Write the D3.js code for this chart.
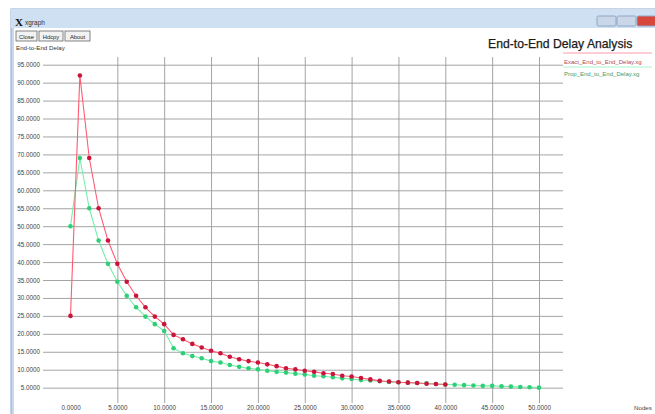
<!DOCTYPE html>
<html><head><meta charset="utf-8">
<script src="https://cdn.jsdelivr.net/npm/d3@7"></script>
<style>
html,body{margin:0;padding:0;background:#fff;overflow:hidden;}
svg{display:block;font-family:"Liberation Sans",Arial,sans-serif;}
</style></head>
<body>
<svg id="chart" width="655" height="414"></svg>
<script>
// ---- data ----
const title = "End-to-End Delay Analysis";
const yAxisTitle = "End-to-End Delay";
const xAxisTitle = "Nodes";
const seriesNames = ["Exact_End_to_End_Delay.xg", "Prop_End_to_End_Delay.xg"];
const xTicks = [0, 5, 10, 15, 20, 25, 30, 35, 40, 45, 50];
const yTicks = [5, 10, 15, 20, 25, 30, 35, 40, 45, 50, 55, 60, 65, 70, 75, 80, 85, 90, 95];
const exactX = [0,1,2,3,4,5,6,7,8,9,10,11,12,13,14,15,16,17,18,19,20,21,22,23,24,25,26,27,28,29,30,31,32,33,34,35,36,37,38,39,40];
const exactY = [25,92,69,55,46,39.5,34.5,30.6,27.4,24.8,22.7,19.7,18.5,17.2,16.2,15.3,14.6,13.6,12.9,12.4,12.0,11.5,11.0,10.4,10.1,9.7,9.4,9.0,8.8,8.3,8.1,7.7,7.3,6.9,6.7,6.5,6.4,6.3,6.1,6.0,5.9];
const propX = [0,1,2,3,4,5,6,7,8,9,10,11,12,13,14,15,16,17,18,19,20,21,22,23,24,25,26,27,28,29,30,31,32,33,34,35,36,37,38,39,40,41,42,43,44,45,46,47,48,49,50];
const propY = [50,69,55,46,39.5,34.5,30.6,27.4,24.8,22.7,20.8,16.0,14.6,13.8,13.2,12.4,12.0,11.3,10.8,10.4,10.1,9.7,9.4,9.2,8.9,8.7,8.3,8.2,7.9,7.6,7.4,7.1,7.0,6.8,6.6,6.5,6.4,6.3,6.2,6.0,5.9,5.8,5.7,5.6,5.5,5.5,5.4,5.3,5.2,5.1,5.0];

const svg = d3.select("#chart");

// ---- window chrome ----
svg.append("rect").attr("x",11).attr("y",9).attr("width",660).attr("height",420)
  .attr("fill","#c6d9ee").attr("stroke","#8eaacb");
svg.append("rect").attr("x",11).attr("y",9).attr("width",660).attr("height",19)
  .attr("fill","#cfe0f2");
svg.append("text").attr("x",15).attr("y",26).attr("font-family","Liberation Serif,serif")
  .attr("font-weight","bold").attr("font-size",11).attr("fill","#111").text("X");
svg.append("text").attr("x",25).attr("y",25).attr("font-size",6.5).attr("fill","#333").text("xgraph");
const ctl = [[597,"#c9d7e8"],[617,"#c9d7e8"],[637,"#d8473c"]];
ctl.forEach(c=>{
  svg.append("rect").attr("x",c[0]).attr("y",16).attr("width",19).attr("height",10)
    .attr("rx",1.5).attr("fill",c[1]).attr("stroke","#8ea6c4");
});
svg.append("rect").attr("x",14).attr("y",28).attr("width",660).attr("height",400).attr("fill","#fff");

// buttons
const btns = [["Close",16,21],["Hdcpy",39,24],["About",65,25]];
btns.forEach(b=>{
  svg.append("rect").attr("x",b[1]).attr("y",31).attr("width",b[2]).attr("height",10)
    .attr("fill","#f2f2f2").attr("stroke","#666").attr("stroke-width",0.8);
  svg.append("text").attr("x",b[1]+b[2]/2).attr("y",38.5).attr("text-anchor","middle")
    .attr("font-size",5.8).attr("fill","#222").text(b[0]);
});
svg.append("text").attr("x",16).attr("y",50).attr("font-size",6.2).attr("fill","#333").text(yAxisTitle);
svg.append("text").attr("x",488).attr("y",47.5).attr("font-size",12.2).attr("fill","#1a1a1a")
  .attr("stroke","#1a1a1a").attr("stroke-width",0.25).text(title);

// ---- scales ----
const x = d3.scaleLinear().domain([0,50]).range([70.5,539]);
const y = d3.scaleLinear().domain([0,95]).range([405.6,64.7]);
const plotL = 43, plotR = 563, plotT = 57, plotB = 403;

// y axis with horizontal grid
const gy = svg.append("g").attr("transform",`translate(${plotL},0)`)
  .call(d3.axisLeft(y).tickValues(yTicks).tickSize(-(plotR-plotL)).tickPadding(3)
    .tickFormat(d=>d.toFixed(4)));
gy.select(".domain").remove();
gy.selectAll(".tick line").attr("stroke","#9a9a9a").attr("stroke-width",0.9);
gy.selectAll(".tick text").attr("font-size",6.3).attr("fill","#444").attr("font-family","Liberation Sans,Arial,sans-serif");

// x axis with vertical grid
const gx = svg.append("g").attr("transform",`translate(0,${plotB})`)
  .call(d3.axisBottom(x).tickValues(xTicks).tickSize(-(plotB-plotT)).tickPadding(3)
    .tickFormat(d=>d.toFixed(4)));
gx.select(".domain").remove();
gx.selectAll(".tick line").attr("stroke","#9a9a9a").attr("stroke-width",0.9)
  .attr("display",d=>d===0?"none":null);
gx.selectAll(".tick text").attr("font-size",6.3).attr("fill","#444").attr("font-family","Liberation Sans,Arial,sans-serif");

svg.append("text").attr("x",634).attr("y",410).attr("font-size",6.2).attr("fill","#444").text(xAxisTitle);

// ---- series ----
const series = [
  {name:seriesNames[1], xs:propX, ys:propY, line:"#6ff0a8", dot:"#2fcf78"},
  {name:seriesNames[0], xs:exactX, ys:exactY, line:"#ff5a72", dot:"#c8153a"}
];
const lineGen = d3.line().x(d=>x(d[0])).y(d=>y(d[1]));
series.forEach(s=>{
  const pts = s.xs.map((v,i)=>[v,s.ys[i]]);
  svg.append("path").datum(pts).attr("d",lineGen).attr("fill","none")
    .attr("stroke",s.line).attr("stroke-width",1.1);
  svg.append("g").selectAll("circle").data(pts).join("circle")
    .attr("cx",d=>x(d[0])).attr("cy",d=>y(d[1])).attr("r",2.3).attr("fill",s.dot);
});

// ---- legend ----
svg.append("line").attr("x1",563).attr("x2",652).attr("y1",53).attr("y2",53)
  .attr("stroke","#ff9aaa").attr("stroke-width",1);
svg.append("text").attr("x",564).attr("y",64).attr("font-size",6).attr("fill","#b04a5a").text(seriesNames[0]);
svg.append("line").attr("x1",563).attr("x2",652).attr("y1",67).attr("y2",67)
  .attr("stroke","#a8f5cc").attr("stroke-width",1);
svg.append("text").attr("x",564).attr("y",76).attr("font-size",6).attr("fill","#3c9a6a").text(seriesNames[1]);
</script>
</body></html>
